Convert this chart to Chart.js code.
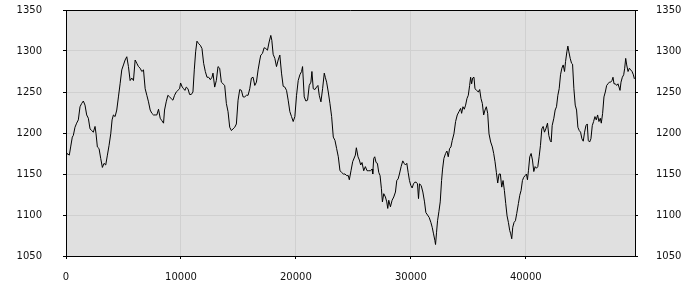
<!DOCTYPE html>
<html>
<head>
<meta charset="utf-8">
<script src="https://cdn.jsdelivr.net/npm/chart.js@4"></script>
<style>
html,body{margin:0;padding:0;background:#fff;}
#wrap{width:700px;height:300px;}
</style>
</head>
<body>
<div id="wrap"><canvas id="c" width="700" height="300"></canvas></div>
<script>
const xValues = [
0,113,288,404,549,637,782,927,1072,1218,1363,1508,1654,1799,1944,2090,2235,2380,2526,2613,2729,2875,3020,3165,3311,3456,3601,3747,3892,4009,4125,4270,4415,4561,4706,4852,4997,5142,5288,5433,5578,5724,5869,6015,6160,6305,6451,6596,6741,6887,7032,7177,7323,7468,7613,7759,7904,8049,8195,8340,8485,
8573,8718,8864,9009,9154,9300,9445,9590,9736,9881,9968,10114,10230,10346,10463,10608,10753,10899,11044,11160,11277,11393,11538,11684,11829,11974,12120,12265,12410,12556,12701,12788,12934,13079,13224,13370,13515,13660,13806,13951,14096,14242,14387,14532,14678,14823,14968,15114,15259,15404,15550,15695,15840,15986,16131,16276,16422,16567,16712,16858,
16945,17091,17236,17381,17527,17672,17817,17905,18021,18166,18312,18457,18602,18748,18893,19038,19184,19329,19474,19620,19765,19910,20056,20201,20346,20492,20579,20724,20869,21015,21160,21306,21393,21509,21654,21800,21916,22032,22178,22323,22468,22556,22672,22817,22962,23108,23253,23398,23544,23689,23835,23980,24125,24271,24416,24561,24648,24794,24939,
25172,25259,25404,25521,25637,25753,25899,26044,26189,26335,26480,26626,26684,26771,26858,26974,27090,27207,27323,27439,27526,27643,27788,27904,27991,28078,28224,28369,28514,28660,28776,28892,29008,29154,29299,29416,29532,29648,29765,29881,29997,30113,30230,30346,30462,30578,30666,30753,30898,31044,31189,31305,31451,31596,31741,31858,31974,32090,32148,32236,32323,32439,32556,32672,32759,32875,33020,33137,33253,33369,33485,33602,
33748,33893,34038,34184,34329,34416,34533,34649,34765,34881,34998,35114,35201,35288,35376,35492,35579,35724,35870,35986,36102,36219,36335,36451,36567,36684,36800,36945,37091,37207,37323,37440,37556,37672,37788,37905,38021,38137,38254,38370,38486,38602,38690,38777,38864,38980,39097,39213,39358,39474,39591,39707,39823,39940,40056,40143,40230,40346,40463,40579,40695,40811,40928,41044,41160,41277,41393,41509,41625,41742,
41887,42003,42119,42207,42294,42439,42555,42672,42788,42904,43021,43137,43253,43370,43457,43573,43660,43747,43864,43980,44067,44183,44300,44416,44532,44649,44765,44881,44998,45114,45230,45346,45434,45550,45666,45783,45899,46015,46132,46248,46364,46481,46568,46684,46800,46917,47033,47149,47266,47382,47498,47585,47672,47789,47905,48021,48109,48196,48283,48400,48516,48603,48690,48778,48894,49010,49126,49243,49359,49446
];
const yValues = [
1171,1175,1173,1183,1195,1197,1207,1212,1216,1232,1236,1239,1234,1222,1218,1205,1203,1201,1208,1199,1183,1181,1169,1158,1163,1161,1173,1185,1199,1216,1222,1220,1228,1244,1260,1277,1283,1289,1293,1281,1264,1267,1264,1289,1285,1281,1279,1275,1277,1254,1246,1238,1228,1224,1222,1222,1222,1229,1218,1215,1212,
1228,1238,1246,1244,1242,1240,1246,1250,1252,1254,1261,1256,1254,1252,1256,1254,1247,1247,1250,1277,1299,1312,1309,1307,1303,1285,1275,1268,1268,1265,1268,1273,1256,1264,1281,1279,1262,1260,1258,1236,1226,1207,1203,1205,1207,1211,1240,1253,1252,1244,1244,1246,1246,1254,1267,1268,1258,1262,1277,1289,
1295,1297,1304,1303,1301,1311,1319,1313,1296,1291,1281,1289,1295,1273,1257,1256,1252,1240,1226,1220,1214,1220,1246,1264,1271,1275,1281,1244,1239,1240,1258,1262,1275,1254,1253,1256,1258,1246,1238,1254,1273,1268,1262,1250,1236,1220,1195,1191,1181,1171,1154,1152,1150,1150,1148,1148,1143,1154,1165,
1173,1182,1171,1167,1161,1164,1154,1159,1154,1154,1154,1156,1150,1169,1171,1164,1163,1152,1148,1132,1116,1126,1122,1116,1108,1118,1110,1118,1122,1128,1142,1144,1150,1159,1166,1163,1161,1163,1152,1142,1136,1133,1138,1140,1140,1138,1120,1138,1136,1128,1116,1103,1100,1097,1091,1085,1077,1069,1064,1079,1093,1104,1116,1142,1156,1169,1175,1178,1171,1181,1183,1191,
1199,1214,1222,1226,1230,1224,1232,1229,1234,1242,1246,1258,1268,1260,1267,1268,1254,1252,1250,1253,1242,1236,1222,1228,1232,1224,1199,1189,1183,1175,1165,1152,1139,1150,1150,1134,1142,1130,1114,1099,1091,1081,1077,1071,1085,1091,1093,1102,1114,1124,1130,1142,1146,1148,1150,1143,1154,1171,1175,1167,1153,1159,1157,1159,1171,1185,1205,1208,1201,1205,
1212,1197,1191,1189,1209,1218,1228,1232,1246,1254,1271,1279,1283,1275,1287,1299,1306,1299,1291,1285,1284,1254,1234,1228,1207,1203,1201,1193,1190,1201,1209,1211,1191,1189,1193,1209,1214,1220,1216,1222,1214,1218,1212,1224,1244,1250,1258,1260,1262,1262,1264,1268,1260,1260,1258,1260,1256,1252,1262,1268,1271,1279,1291,1283,1275,1279,1277,1275,1271,1266
];
const xTickValues = [0, 10000, 20000, 30000, 40000];
const yTickValues = [1050, 1100, 1150, 1200, 1250, 1300, 1350];
const xMin = 0, xMax = 49500, yMin = 1050, yMax = 1350;

const points = xValues.map((x, i) => ({x: x, y: yValues[i]}));

const areaBg = {
  id: 'areaBg',
  beforeDraw(chart) {
    const a = chart.chartArea, ctx = chart.ctx;
    ctx.save();
    ctx.fillStyle = '#e0e0e0';
    ctx.fillRect(a.left, a.top, a.right - a.left, a.bottom - a.top);
    ctx.restore();
  }
};

const font = {family: 'DejaVu Sans', size: 10};
const plain = v => String(v);

new Chart(document.getElementById('c'), {
  type: 'line',
  data: {
    datasets: [{
      data: points,
      borderColor: '#000',
      borderWidth: 1,
      pointRadius: 0,
      tension: 0,
      fill: false
    }]
  },
  options: {
    responsive: false,
    animation: false,
    layout: {padding: {top: 10, left: 0, right: 0, bottom: 0}},
    plugins: {legend: {display: false}, tooltip: {enabled: false}},
    scales: {
      x: {
        type: 'linear', position: 'bottom', min: xMin, max: xMax,
        afterBuildTicks: s => { s.ticks = xTickValues.map(v => ({value: v})); },
        afterFit: s => { s.height = 44; s.paddingLeft = 0; s.paddingRight = 0; },
        grid: {color: '#d0d0d0', tickColor: '#000', tickLength: 3, lineWidth: 1},
        border: {display: true, color: '#000', width: 1},
        ticks: {font: font, color: '#111', padding: 12, maxRotation: 0, autoSkip: false, callback: plain}
      },
      y: {
        type: 'linear', position: 'left', min: yMin, max: yMax,
        afterBuildTicks: s => { s.ticks = yTickValues.map(v => ({value: v})); },
        afterFit: s => { s.width = 66; s.paddingTop = 0; s.paddingBottom = 0; },
        grid: {color: '#d0d0d0', tickColor: '#000', tickLength: 3, lineWidth: 1},
        border: {display: true, color: '#000', width: 1},
        ticks: {font: font, color: '#111', padding: 21, autoSkip: false, callback: plain}
      },
      y2: {
        type: 'linear', position: 'right', min: yMin, max: yMax,
        afterBuildTicks: s => { s.ticks = yTickValues.map(v => ({value: v})); },
        afterFit: s => { s.width = 65; s.paddingTop = 0; s.paddingBottom = 0; },
        grid: {drawOnChartArea: false, tickColor: '#000', tickLength: 3},
        border: {display: true, color: '#000', width: 1},
        ticks: {font: font, color: '#111', padding: 18, autoSkip: false, callback: plain}
      }
    }
  },
  plugins: [areaBg, {
    id: 'topBorder',
    afterDraw(chart) {
      const a = chart.chartArea, ctx = chart.ctx;
      ctx.save();
      ctx.strokeStyle = '#000';
      ctx.lineWidth = 1;
      ctx.beginPath();
      ctx.moveTo(a.left, Math.floor(a.top) + 0.5);
      ctx.lineTo(a.right, Math.floor(a.top) + 0.5);
      ctx.stroke();
      ctx.restore();
    }
  }]
});
</script>
</body>
</html>
